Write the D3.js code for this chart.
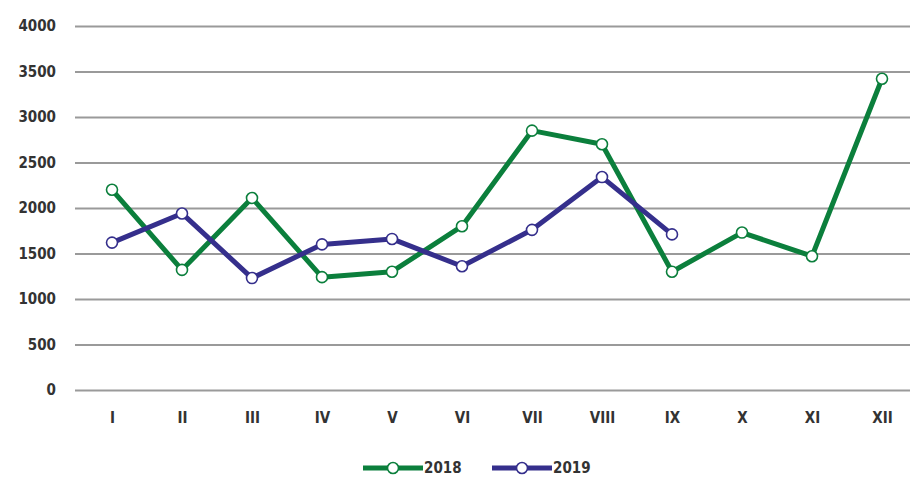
<!DOCTYPE html>
<html><head><meta charset="utf-8">
<script src="https://cdn.jsdelivr.net/npm/d3@7"></script>
<style>body{margin:0;background:#fff}svg{display:block}</style>
</head><body>
<svg id="c" width="910" height="477"></svg>
<script>
const months = ["I","II","III","IV","V","VI","VII","VIII","IX","X","XI","XII"];
const values2018 = [2200,1320,2110,1240,1300,1800,2850,2700,1300,1730,1470,3420];
const values2019 = [1620,1940,1230,1600,1660,1360,1760,2340,1710];
const yTicks = [0,500,1000,1500,2000,2500,3000,3500,4000];
const seriesNames = ["2018","2019"];
const colors = ["#0b7f3c","#352f8c"];

const svg = d3.select("#c");
const font = "'Liberation Sans Narrow','DejaVu Sans',sans-serif";
const textStyle = s => s.attr("fill","#333").style("font-family",font)
  .style("font-size","15px").style("font-weight","bold").style("font-stretch","condensed");
const x = d3.scalePoint().domain(months).range([112,882]);
const y = d3.scaleLinear().domain([0,4000]).range([390,26]);

// grid
const gAxisY = svg.append("g").attr("transform","translate(75,0)")
  .call(d3.axisLeft(y).tickValues(yTicks).tickSize(-840).tickPadding(19).tickFormat(d3.format("d")));
gAxisY.select(".domain").remove();
gAxisY.selectAll(".tick line").attr("stroke","#9a9a9a").attr("stroke-width",2.2);
gAxisY.selectAll(".tick text").call(textStyle).attr("dy","0.32em");

const gAxisX = svg.append("g").attr("transform","translate(0,390)")
  .call(d3.axisBottom(x).tickSize(0).tickPadding(22));
gAxisX.select(".domain").remove();
gAxisX.selectAll(".tick text").call(textStyle);

const series = [values2018, values2019];
const line = d3.line().x((d,i)=>x(months[i])).y(d=>y(d));
series.forEach((vals,si)=>{
  svg.append("path").datum(vals).attr("d",line).attr("fill","none")
    .attr("stroke",colors[si]).attr("stroke-width",5).attr("stroke-linejoin","round");
});
series.forEach((vals,si)=>{
  svg.append("g").selectAll("circle").data(vals).join("circle")
    .attr("cx",(d,i)=>x(months[i])).attr("cy",d=>y(d)).attr("r",5.5)
    .attr("fill","#fff").attr("stroke",colors[si]).attr("stroke-width",1.6);
});

// legend
const legendX = [363, 492];
seriesNames.forEach((name,si)=>{
  const g = svg.append("g").attr("transform",`translate(${legendX[si]},468)`);
  g.append("line").attr("x1",0).attr("x2",60).attr("y1",0).attr("y2",0)
    .attr("stroke",colors[si]).attr("stroke-width",5);
  g.append("circle").attr("cx",30).attr("cy",0).attr("r",5.5).attr("fill","#fff")
    .attr("stroke",colors[si]).attr("stroke-width",1.6);
  g.append("text").attr("x",61).attr("y",0).attr("dy","0.35em").text(name).call(textStyle);
});
</script>
</body></html>
